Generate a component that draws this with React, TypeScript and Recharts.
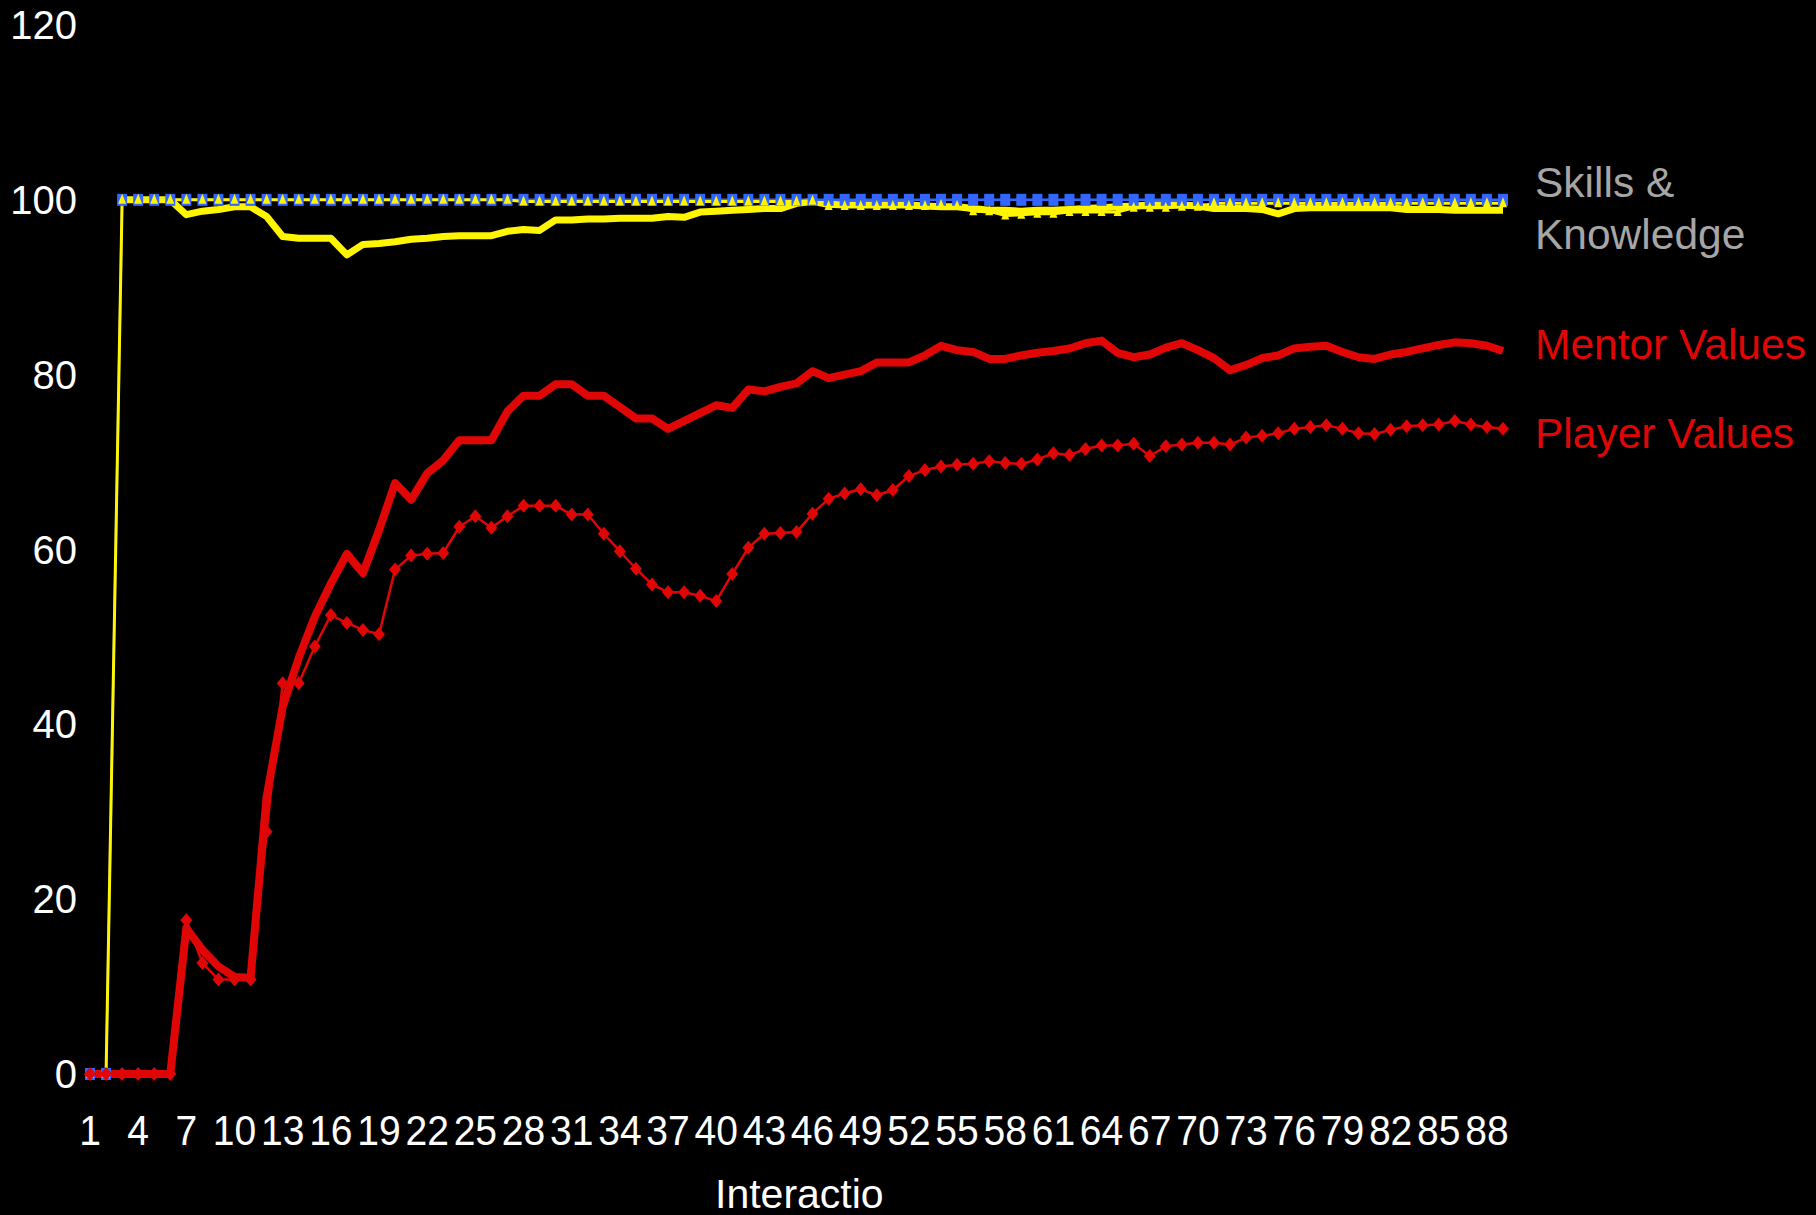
import { LineChart, Line, XAxis, YAxis } from 'recharts';

const interactions = Array.from({ length: 89 }, (_, i) => i + 1);

const yTicks = [0, 20, 40, 60, 80, 100, 120];

// thick yellow line, no markers
const skillsMentor = [
    null, null, 100, 100, 100, 100, 98.3, 98.7, 98.9, 99.2,
    99.2, 98.1, 95.8, 95.6, 95.6, 95.6, 93.7, 94.9, 95.0, 95.2,
    95.5, 95.6, 95.8, 95.9, 95.9, 95.9, 96.4, 96.6, 96.5, 97.7,
    97.7, 97.8, 97.8, 97.9, 97.9, 97.9, 98.1, 98.0, 98.6, 98.7,
    98.8, 98.9, 99.0, 99.0, 99.6, 99.8, 99.5, 99.4, 99.4, 99.4,
    99.4, 99.4, 99.3, 99.2, 99.2, 99.0, 98.8, 98.8, 98.7, 98.8,
    98.8, 98.9, 99.0, 99.1, 99.2, 99.3, 99.4, 99.4, 99.4, 99.3,
    99.0, 99.0, 99.0, 98.9, 98.4, 99.0, 99.1, 99.1, 99.1, 99.1,
    99.1, 99.1, 98.9, 98.9, 98.9, 98.8, 98.8, 98.8, 98.8,
];

// blue squares
const skillsTarget = [
    0, 0, 100, 100, 100, 100, 100, 100, 100, 100,
    100, 100, 100, 100, 100, 100, 100, 100, 100, 100,
    100, 100, 100, 100, 100, 100, 100, 100, 100, 100,
    100, 100, 100, 100, 100, 100, 100, 100, 100, 100,
    100, 100, 100, 100, 100, 100, 100, 100, 100, 100,
    100, 100, 100, 100, 100, 100, 100, 100, 100, 100,
    100, 100, 100, 100, 100, 100, 100, 100, 100, 100,
    100, 100, 100, 100, 100, 100, 100, 100, 100, 100,
    100, 100, 100, 100, 100, 100, 100, 100, 100,
];

// yellow triangles
const skillsPlayer = [
    0, 0, 100, 100, 100, 100, 100, 100, 100, 100,
    100, 100, 100, 100, 100, 100, 100, 100, 100, 100,
    100, 100, 100, 100, 100, 100, 100, 99.8, 99.8, 99.8,
    99.8, 99.8, 99.8, 99.8, 99.8, 99.8, 99.8, 99.8, 99.8, 99.8,
    99.8, 99.8, 99.8, 99.8, 99.8, 99.9, 99.3, 99.3, 99.3, 99.3,
    99.3, 99.3, 99.3, 99.4, 99.3, 98.7, 98.7, 98.2, 98.3, 98.4,
    98.4, 98.6, 98.6, 98.6, 98.6, 99.1, 99.1, 99.1, 99.2, 99.2,
    99.6, 99.6, 99.6, 99.6, 99.6, 99.6, 99.6, 99.6, 99.6, 99.6,
    99.6, 99.6, 99.6, 99.6, 99.6, 99.6, 99.6, 99.6, 99.6,
];

const mentorValues = [
    0, 0, 0, 0, 0, 0, 16.7, 14.2, 12.3, 11.1,
    11.0, 31.7, 42.0, 47.6, 52.3, 56.1, 59.5, 57.3, 62.2, 67.6,
    65.7, 68.7, 70.2, 72.5, 72.5, 72.5, 75.8, 77.6, 77.6, 78.9,
    78.9, 77.6, 77.6, 76.3, 75.0, 75.0, 73.8, 74.7, 75.6, 76.5,
    76.2, 78.3, 78.1, 78.6, 79.0, 80.4, 79.6, 80.0, 80.4, 81.4,
    81.4, 81.4, 82.2, 83.3, 82.8, 82.6, 81.8, 81.8, 82.2, 82.5,
    82.7, 83.0, 83.6, 83.9, 82.5, 82.0, 82.3, 83.1, 83.6, 82.8,
    81.9, 80.5, 81.1, 81.9, 82.2, 83.0, 83.2, 83.3, 82.6, 82.0,
    81.8, 82.3, 82.6, 83.0, 83.4, 83.7, 83.6, 83.3, 82.7,
];

const playerValues = [
    0, 0, 0, 0, 0, 0, 17.6, 12.7, 10.8, 10.8,
    10.8, 27.7, 44.7, 44.7, 48.9, 52.5, 51.6, 50.8, 50.3, 57.7,
    59.3, 59.5, 59.6, 62.6, 63.8, 62.5, 63.8, 65.0, 65.0, 65.0,
    64.0, 64.0, 61.8, 59.8, 57.8, 56.0, 55.1, 55.1, 54.7, 54.1,
    57.2, 60.2, 61.8, 61.9, 62.0, 64.1, 65.8, 66.4, 66.9, 66.2,
    66.8, 68.4, 69.1, 69.5, 69.7, 69.8, 70.1, 69.9, 69.8, 70.3,
    71.0, 70.8, 71.5, 71.9, 71.9, 72.1, 70.7, 71.8, 72.0, 72.2,
    72.2, 72.0, 72.8, 73.0, 73.3, 73.8, 74.0, 74.2, 73.8, 73.3,
    73.2, 73.7, 74.1, 74.2, 74.3, 74.7, 74.3, 74.0, 73.8,
];

const data = interactions.map((x, i) => ({
    x,
    skillsMentor: skillsMentor[i],
    skillsTarget: skillsTarget[i],
    skillsPlayer: skillsPlayer[i],
    mentor: mentorValues[i],
    player: playerValues[i],
}));

const RED = '#e00606';
const YELLOW = '#fff500';
const BLUE = '#3366ff';
const FONT = '"Liberation Sans", Arial, sans-serif';

// x labels are a bit condensed in the original
const XTick = (props: any) => {
    const {x, y, payload} = props;
    return (
        <text
            transform={`translate(${x},${y + 71}) scale(0.93,1)`}
            textAnchor="middle"
            fill="#fff"
            fontSize={42}
            fontFamily={FONT}
        >
            {payload.value}
        </text>
    );
};

const YTick = (props: any) => {
    const {x, y, payload} = props;
    return (
        <text x={x - 13} y={y + 14} textAnchor="end" fill="#fff" fontSize={40} fontFamily={FONT}>
            {payload.value}
        </text>
    );
};

const Diamond = (props: any) => {
    const {cx, cy, index} = props;
    if (cx == null || cy == null) return <g key={index}/>;
    return <polygon key={index} points={`${cx},${cy - 7} ${cx + 6},${cy} ${cx},${cy + 7} ${cx - 6},${cy}`} fill={RED}/>;
};

const Square = (props: any) => {
    const {cx, cy, index} = props;
    if (cx == null || cy == null) return <g key={index}/>;
    return <rect key={index} x={cx - 5} y={cy - 6} width={10} height={12} fill={BLUE}/>;
};

const Triangle = (props: any) => {
    const {cx, cy, index} = props;
    if (cx == null || cy == null) return <g key={index}/>;
    return <polygon key={index} points={`${cx},${cy - 6} ${cx + 4},${cy + 4} ${cx - 4},${cy + 4}`} fill={YELLOW}/>;
};

const App = () => {
    return (
        <div style={{position: 'absolute', left: 0, top: 0, width: 1816, height: 1215, background: '#000', overflow: 'hidden'}}>
            <LineChart width={1816} height={1215} data={data} margin={{top: 25, right: 313, bottom: 81, left: 10}}>
                <XAxis
                    dataKey="x"
                    interval={2}
                    axisLine={false}
                    tickLine={false}
                    tickSize={0}
                    tickMargin={0}
                    height={60}
                    tick={(p: any) => <XTick {...p}/>}
                />
                <YAxis
                    domain={[0, 120]}
                    ticks={yTicks}
                    axisLine={false}
                    tickLine={false}
                    tickSize={0}
                    tickMargin={0}
                    width={80}
                    tick={(p: any) => <YTick {...p}/>}
                />
                <Line dataKey="skillsMentor" stroke={YELLOW} strokeWidth={7} dot={false} isAnimationActive={false} strokeLinejoin="round"/>
                <Line dataKey="skillsTarget" stroke={BLUE} strokeWidth={2.5} dot={(p: any) => <Square {...p}/>} isAnimationActive={false}/>
                <Line dataKey="skillsPlayer" stroke={YELLOW} strokeWidth={3} dot={(p: any) => <Triangle {...p}/>} isAnimationActive={false}/>
                <Line dataKey="mentor" stroke={RED} strokeWidth={8} dot={false} isAnimationActive={false} strokeLinejoin="round"/>
                <Line dataKey="player" stroke={RED} strokeWidth={2.5} dot={(p: any) => <Diamond {...p}/>} isAnimationActive={false}/>
            </LineChart>
            <svg width={1816} height={1215} style={{position: 'absolute', left: 0, top: 0, pointerEvents: 'none'}}>
                <g fontFamily={FONT} fontSize={42.5}>
                    <text x={1535} y={197} fill="#a6a6a6">Skills &amp;</text>
                    <text x={1535} y={249} fill="#a6a6a6">Knowledge</text>
                    <text x={1535} y={359} fill={RED}>Mentor Values</text>
                    <text x={1535} y={448} fill={RED}>Player Values</text>
                </g>
                <text x={715} y={1208} fill="#fff" fontFamily={FONT} fontSize={41}>Interactio</text>
            </svg>
        </div>
    );
};

export default App;
